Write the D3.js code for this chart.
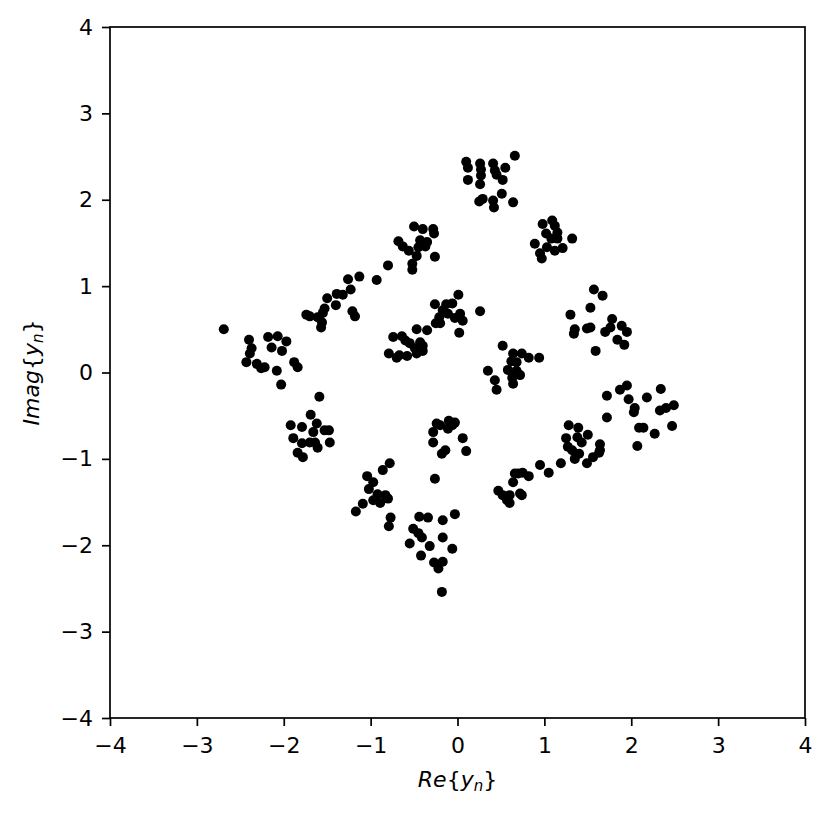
<!DOCTYPE html>
<html>
<head>
<meta charset="utf-8">
<script src="https://cdn.jsdelivr.net/npm/d3@7"></script>
<style>
  body { margin: 0; background: #fff; }
  text { font-family: "DejaVu Sans", sans-serif; }
</style>
</head>
<body>
<div id="chart"></div>
<script>
const reVals = [
  // around (-2.2, 0.2)
  -2.69, -2.40, -2.37, -2.39, -2.43, -2.31, -2.26, -2.22, -2.18, -2.07, -1.97, -2.14, -2.02, -2.08, -2.03, -1.88, -1.84,
  // diagonal (-1.6, 0.8)
  -0.80, -1.13, -1.26, -0.93, -1.23, -1.39, -1.32, -1.50, -1.40, -1.55, -1.61, -1.74, -1.56, -1.57, -1.21, -1.18, -1.53, -1.70,
  // (-0.5, 1.5)
  -0.50, -0.40, -0.28, -0.27, -0.68, -0.63, -0.56, -0.43, -0.35, -0.45, -0.37, -0.47, -0.52, -0.52, -0.26,
  // (0.3, 2.2)
  0.10, 0.12, 0.12, 0.26, 0.27, 0.27, 0.26, 0.41, 0.43, 0.45, 0.52, 0.55, 0.66, 0.51, 0.25, 0.41, 0.42, 0.64, 0.29,
  // (1.1, 1.55)
  0.98, 1.09, 1.12, 1.15, 1.02, 1.08, 1.15, 1.32, 0.89, 1.03, 1.12, 1.21, 0.95, 0.97,
  // (1.7, 0.6)
  1.57, 1.67, 1.53, 1.30, 1.35, 1.34, 1.49, 1.53, 1.78, 1.76, 1.70, 1.89, 1.95, 1.84, 1.92, 1.59,
  // (0.6, 0.1)
  0.26, 0.52, 0.64, 0.74, 0.82, 0.94, 0.62, 0.68, 0.58, 0.68, 0.72, 0.63, 0.64, 0.35, 0.43, 0.45,
  // (-0.1, 0.65)
  0.01, -0.13, -0.06, -0.26, -0.17, -0.11, 0.03, 0.06, -0.03, -0.21, -0.25, -0.20, 0.02, -0.35, -0.47,
  // (-0.6, 0.3)
  -0.74, -0.64, -0.79, -0.67, -0.58, -0.55, -0.49, -0.43, -0.40, -0.47, -0.40, -0.70, -0.60,
  // (-0.15, -0.7)
  -0.24, -0.10, -0.03, -0.06, -0.11, -0.28, -0.28, -0.14, -0.18, 0.06, 0.10, -0.26, -0.20,
  // (-1.0, -1.4)
  -0.78, -0.86, -1.04, -0.97, -1.02, -0.92, -0.83, -0.80, -0.97, -1.09, -0.89, -1.17, -0.77, -0.79,
  // (-0.35, -1.9)
  -0.44, -0.34, -0.17, -0.03, -0.51, -0.45, -0.41, -0.55, -0.32, -0.17, -0.06, -0.42, -0.27, -0.17, -0.22, -0.18,
  // diagonal (0.7, -1.4) .. (1.6, -0.9)
  0.47, 0.57, 0.60, 0.64, 0.70, 0.75, 0.82, 0.74, 0.95, 1.05, 1.19, 1.35, 1.40, 1.49, 1.56, 1.63, 1.64, 1.27, 0.72, 0.66, 0.52, 0.60,
  // (1.4, -0.8)
  1.28, 1.39, 1.25, 1.38, 1.50, 1.43, 1.32, 1.64,
  // (2.1, -0.4)
  1.72, 1.87, 1.95, 1.97, 2.18, 2.34, 2.04, 2.03, 2.33, 2.40, 2.49, 1.72, 2.09, 2.14, 2.27, 2.47, 2.07,
  // (-1.7, -0.75)
  -1.59, -1.69, -1.92, -1.79, -1.62, -1.66, -1.53, -1.48, -1.89, -1.79, -1.70, -1.61, -1.47, -1.84, -1.78, -1.64
];

const imVals = [
  0.50, 0.38, 0.28, 0.22, 0.12, 0.10, 0.05, 0.06, 0.41, 0.42, 0.36, 0.29, 0.25, 0.02, -0.14, 0.12, 0.06,
  1.24, 1.11, 1.08, 1.07, 0.96, 0.91, 0.90, 0.86, 0.78, 0.69, 0.64, 0.67, 0.58, 0.52, 0.71, 0.65, 0.74, 0.65,
  1.69, 1.66, 1.66, 1.61, 1.52, 1.46, 1.41, 1.53, 1.51, 1.45, 1.46, 1.35, 1.26, 1.19, 1.34,
  2.44, 2.37, 2.23, 2.42, 2.35, 2.28, 2.18, 2.42, 2.34, 2.29, 2.23, 2.37, 2.51, 2.07, 1.98, 1.99, 1.91, 1.97, 2.01,
  1.72, 1.76, 1.70, 1.62, 1.61, 1.55, 1.55, 1.55, 1.49, 1.45, 1.41, 1.44, 1.38, 1.32,
  0.96, 0.89, 0.75, 0.67, 0.50, 0.45, 0.51, 0.52, 0.62, 0.52, 0.47, 0.54, 0.47, 0.38, 0.32, 0.25,
  0.71, 0.31, 0.22, 0.22, 0.17, 0.17, 0.13, 0.12, 0.03, 0.02, -0.03, -0.06, -0.13, 0.02, -0.09, -0.20,
  0.90, 0.79, 0.80, 0.79, 0.72, 0.68, 0.68, 0.60, 0.63, 0.64, 0.57, 0.57, 0.46, 0.49, 0.50,
  0.41, 0.42, 0.22, 0.20, 0.19, 0.34, 0.28, 0.35, 0.31, 0.22, 0.25, 0.17, 0.37,
  -0.59, -0.56, -0.58, -0.61, -0.65, -0.69, -0.81, -0.90, -0.94, -0.76, -0.91, -1.23, -0.61,
  -1.05, -1.13, -1.20, -1.27, -1.35, -1.41, -1.42, -1.46, -1.48, -1.52, -1.51, -1.61, -1.68, -1.78,
  -1.67, -1.68, -1.71, -1.64, -1.81, -1.86, -1.91, -1.98, -2.01, -1.91, -2.04, -2.12, -2.20, -2.19, -2.27, -2.54,
  -1.37, -1.48, -1.42, -1.27, -1.17, -1.16, -1.20, -1.42, -1.07, -1.16, -1.05, -1.00, -0.94, -1.05, -0.98, -0.93, -0.83, -0.86, -1.40, -1.17, -1.42, -1.51,
  -0.61, -0.64, -0.76, -0.75, -0.72, -0.81, -0.90, -0.90,
  -0.27, -0.20, -0.15, -0.31, -0.29, -0.19, -0.41, -0.46, -0.44, -0.41, -0.38, -0.52, -0.64, -0.64, -0.71, -0.62, -0.85,
  -0.28, -0.49, -0.61, -0.63, -0.59, -0.69, -0.67, -0.67, -0.76, -0.82, -0.81, -0.87, -0.81, -0.93, -0.98, -0.81
];

const tickVals = [-4, -3, -2, -1, 0, 1, 2, 3, 4];

const width = 830, height = 816;
const margin = {top: 27, right: 25, bottom: 98, left: 110};
const fontPx = 22;

const points = reVals.map((re, i) => ({re: re, im: imVals[i]}));

const svg = d3.select("#chart")
  .append("svg")
  .attr("width", width)
  .attr("height", height);

const x = d3.scaleLinear()
  .domain([-4, 4])
  .range([margin.left, width - margin.right]);

const y = d3.scaleLinear()
  .domain([-4, 4])
  .range([height - margin.bottom, margin.top]);

const fmt = (d) => d < 0 ? "\u2212" + Math.abs(d) : String(d);

const xAxis = svg.append("g")
  .attr("transform", `translate(0, ${height - margin.bottom})`)
  .call(d3.axisBottom(x).tickValues(tickVals).tickFormat(fmt).tickSize(8).tickPadding(11));

const yAxis = svg.append("g")
  .attr("transform", `translate(${margin.left}, 0)`)
  .call(d3.axisLeft(y).tickValues(tickVals).tickFormat(fmt).tickSize(8).tickPadding(9));

[xAxis, yAxis].forEach(g => {
  g.attr("font-size", null).attr("font-family", null);
  g.select(".domain").remove();
  g.selectAll("line").attr("stroke", "#000").attr("stroke-width", 1.7);
  g.selectAll("text").attr("fill", "#000").style("font-size", fontPx + "px")
    .style("font-family", "'DejaVu Sans', sans-serif");
});

// frame
svg.append("rect")
  .attr("x", margin.left)
  .attr("y", margin.top)
  .attr("width", width - margin.left - margin.right)
  .attr("height", height - margin.top - margin.bottom)
  .attr("fill", "none")
  .attr("stroke", "#000")
  .attr("stroke-width", 1.7);

svg.append("g")
  .selectAll("circle")
  .data(points)
  .enter().append("circle")
  .attr("cx", (d) => x(d.re))
  .attr("cy", (d) => y(d.im))
  .attr("r", 5)
  .attr("fill", "#000");

// axis labels
const xl = svg.append("text")
  .attr("x", (margin.left + width - margin.right) / 2)
  .attr("y", 787)
  .attr("text-anchor", "middle")
  .style("font-size", fontPx + "px");
xl.append("tspan").style("font-style", "italic").text("Re");
xl.append("tspan").text("{");
xl.append("tspan").style("font-style", "italic").text("y");
xl.append("tspan").style("font-style", "italic").style("font-size", "15px").attr("dy", 4).text("n");
xl.append("tspan").attr("dy", -4).text("}");

const yl = svg.append("text")
  .attr("transform", `translate(39, ${(margin.top + height - margin.bottom) / 2}) rotate(-90)`)
  .attr("text-anchor", "middle")
  .style("font-size", fontPx + "px");
yl.append("tspan").style("font-style", "italic").text("Imag");
yl.append("tspan").text("{");
yl.append("tspan").style("font-style", "italic").text("y");
yl.append("tspan").style("font-style", "italic").style("font-size", "15px").attr("dy", 4).text("n");
yl.append("tspan").attr("dy", -4).text("}");
</script>
</body>
</html>
